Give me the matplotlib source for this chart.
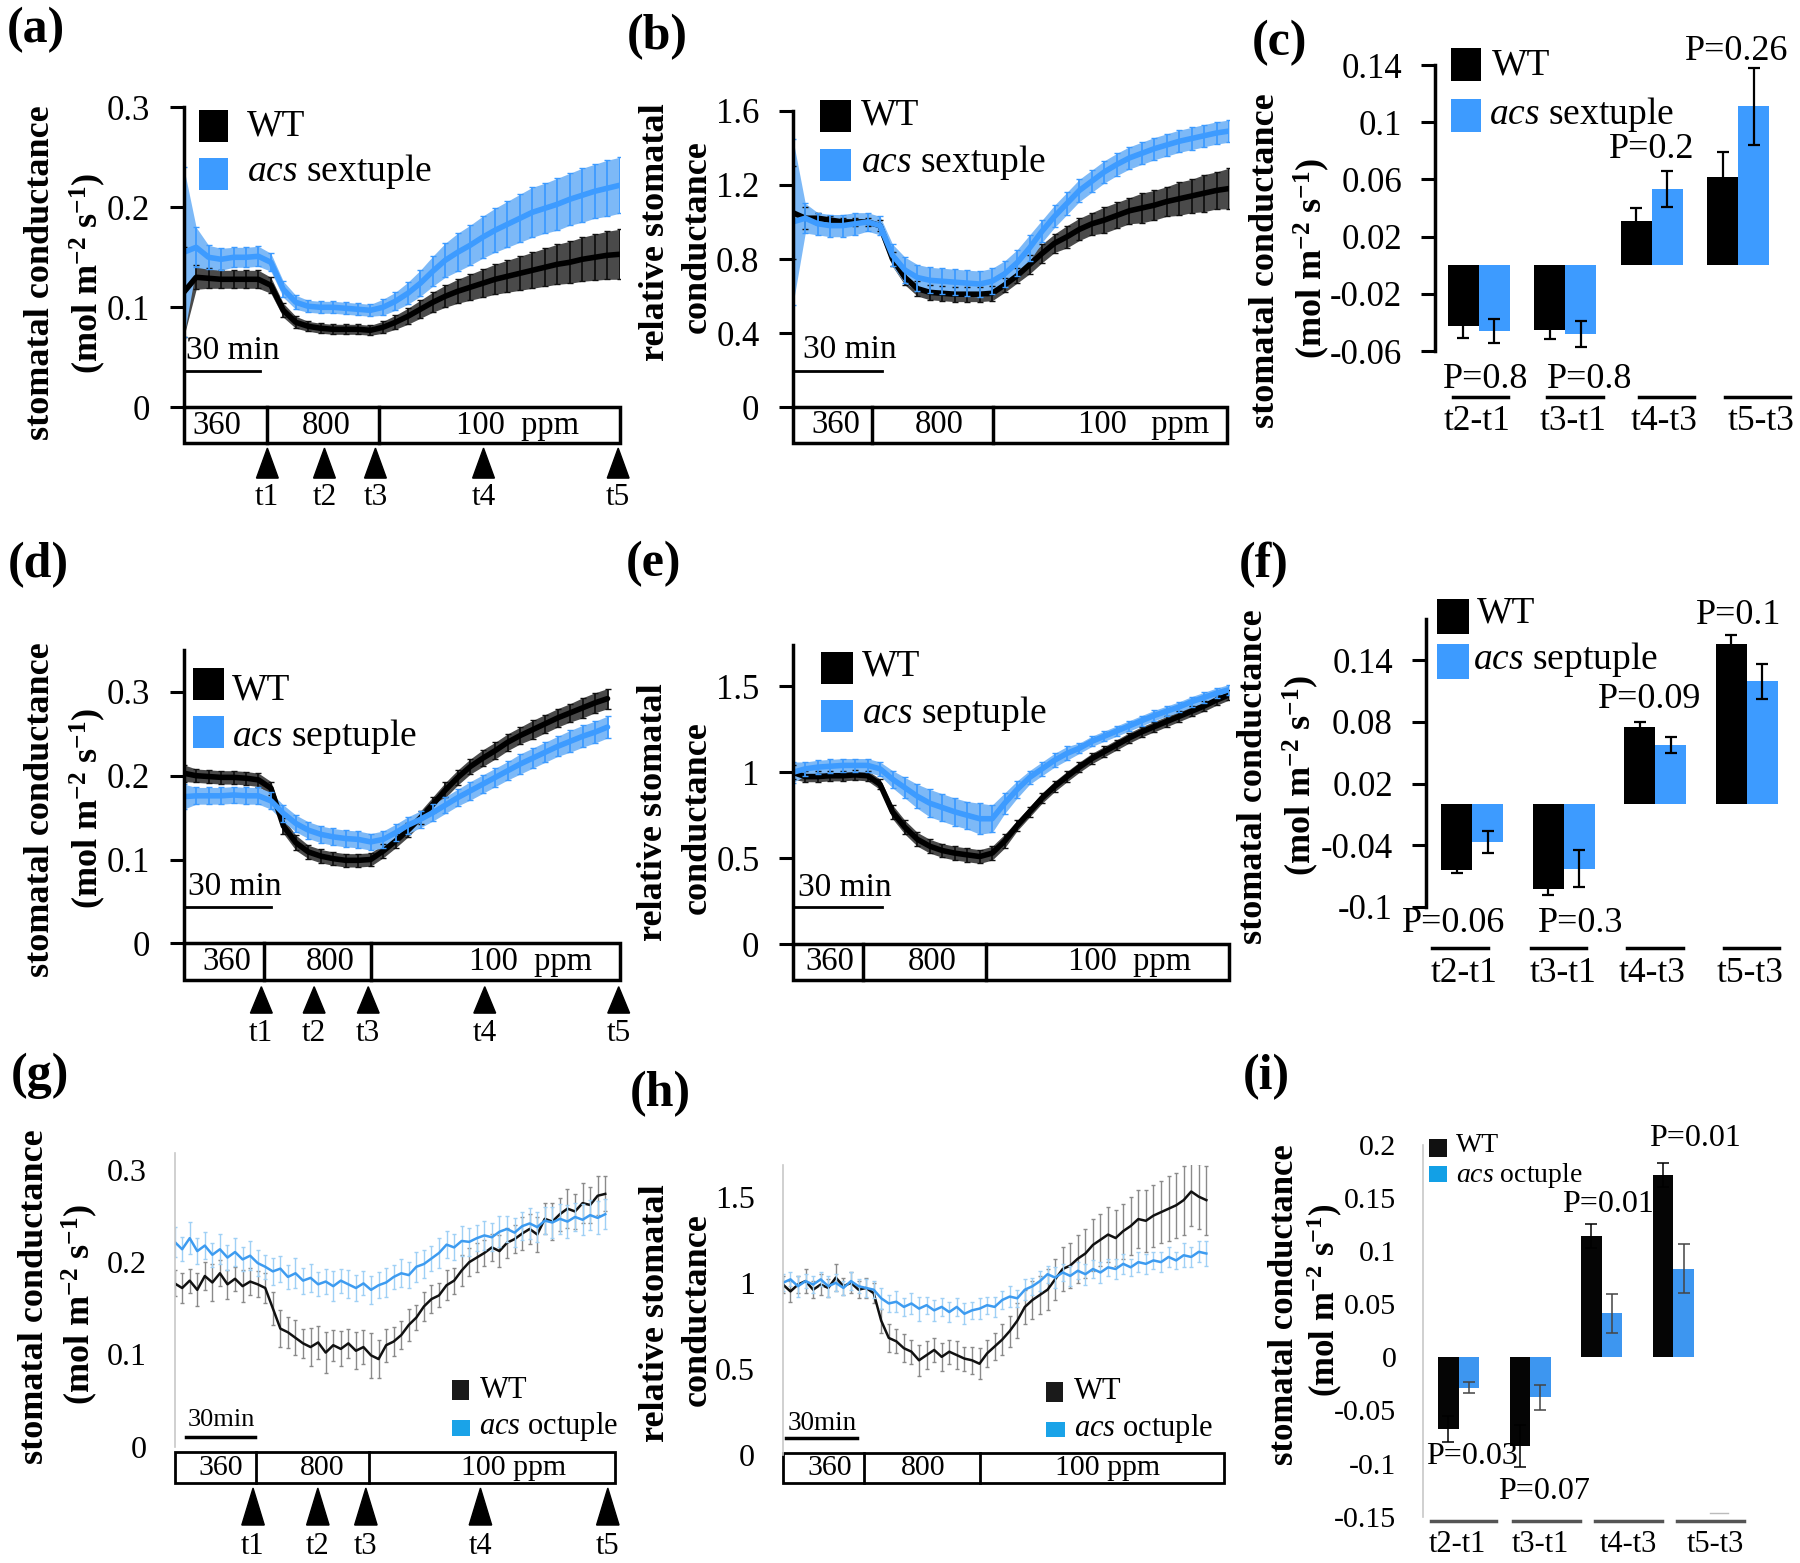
import numpy as np
import matplotlib
matplotlib.use("Agg")
import matplotlib.pyplot as plt
from matplotlib.patches import Rectangle, Polygon
from matplotlib.lines import Line2D

plt.rcParams["font.family"] = ["Liberation Serif", "DejaVu Serif"]
plt.rcParams["mathtext.fontset"] = "custom"
plt.rcParams["mathtext.rm"] = "Liberation Serif"
plt.rcParams["mathtext.it"] = "Liberation Serif:italic"
plt.rcParams["mathtext.bf"] = "Liberation Serif:bold"

W, H = 1800, 1563
BLUE = "#3d9bff"
BLUE_BAND = "#7db9f7"
WT_BAND = "#4a4a4a"

# ---- time courses (minutes) ----
time_5 = np.arange(0, 176, 5)
time_d = np.arange(0, 171, 5)
time_g = np.arange(0, 172, 3)
time_h = np.arange(0, 169, 3)

# (a) stomatal conductance, WT vs acs sextuple
wt_a = [0.115, 0.130, 0.129, 0.128, 0.128, 0.128, 0.128, 0.122,
        0.097, 0.085, 0.081, 0.079, 0.078, 0.078, 0.078, 0.077,
        0.080, 0.085, 0.091, 0.098, 0.105, 0.111, 0.116, 0.120,
        0.124, 0.128, 0.131, 0.134, 0.137, 0.140, 0.143, 0.145,
        0.148, 0.150, 0.152, 0.153]
wt_a_err = [0.045, 0.012, 0.010, 0.009, 0.009, 0.009, 0.009, 0.008,
            0.007, 0.006, 0.005, 0.005, 0.005, 0.005, 0.005, 0.005,
            0.006, 0.007, 0.008, 0.009, 0.010, 0.011, 0.012, 0.013,
            0.014, 0.015, 0.016, 0.017, 0.018, 0.019, 0.020, 0.021,
            0.022, 0.023, 0.024, 0.025]
sext_a = [0.155, 0.160, 0.150, 0.148, 0.150, 0.150, 0.151, 0.145,
          0.118, 0.105, 0.101, 0.100, 0.100, 0.099, 0.098, 0.097,
          0.100, 0.106, 0.114, 0.124, 0.136, 0.147, 0.155, 0.162,
          0.170, 0.177, 0.183, 0.189, 0.195, 0.199, 0.203, 0.208,
          0.212, 0.216, 0.219, 0.222]
sext_a_err = [0.085, 0.020, 0.012, 0.011, 0.010, 0.010, 0.010, 0.009,
              0.008, 0.007, 0.006, 0.006, 0.006, 0.006, 0.006, 0.006,
              0.008, 0.009, 0.011, 0.013, 0.015, 0.017, 0.019, 0.020,
              0.021, 0.022, 0.023, 0.024, 0.025, 0.025, 0.026, 0.026,
              0.027, 0.027, 0.028, 0.028]

# (b) relative stomatal conductance, sextuple
wt_b = [1.05, 1.02, 1.02, 1.01, 1.00, 1.00, 1.00, 0.98,
        0.80, 0.70, 0.64, 0.62, 0.615, 0.61, 0.61, 0.61,
        0.615, 0.66, 0.71, 0.77, 0.83, 0.885, 0.92, 0.96,
        0.99, 1.01, 1.035, 1.06, 1.075, 1.09, 1.11, 1.125,
        1.14, 1.155, 1.17, 1.18]
wt_b_err = [0.25, 0.06, 0.03, 0.02, 0.02, 0.02, 0.02, 0.03,
            0.04, 0.04, 0.04, 0.04, 0.04, 0.04, 0.04, 0.04,
            0.04, 0.04, 0.04, 0.05, 0.05, 0.05, 0.06, 0.06,
            0.06, 0.07, 0.07, 0.07, 0.08, 0.08, 0.08, 0.09,
            0.09, 0.10, 0.10, 0.11]
sext_b = [1.00, 1.02, 0.99, 0.98, 0.98, 0.99, 1.00, 0.98,
          0.82, 0.74, 0.70, 0.685, 0.68, 0.675, 0.67, 0.665,
          0.68, 0.72, 0.78, 0.86, 0.95, 1.03, 1.10, 1.17,
          1.22, 1.27, 1.31, 1.345, 1.37, 1.395, 1.415, 1.435,
          1.45, 1.465, 1.48, 1.49]
sext_b_err = [0.45, 0.08, 0.06, 0.06, 0.06, 0.06, 0.05, 0.05,
              0.06, 0.07, 0.07, 0.07, 0.07, 0.07, 0.07, 0.07,
              0.07, 0.07, 0.07, 0.07, 0.06, 0.06, 0.06, 0.06,
              0.06, 0.06, 0.06, 0.06, 0.06, 0.06, 0.06, 0.06,
              0.06, 0.06, 0.06, 0.06]

# (d) stomatal conductance, septuple
wt_d = [0.203, 0.200, 0.199, 0.198, 0.198, 0.197, 0.195, 0.185,
        0.140, 0.120, 0.109, 0.104, 0.101, 0.099, 0.099, 0.100,
        0.110, 0.122, 0.135, 0.150, 0.166, 0.183, 0.198, 0.211,
        0.221, 0.230, 0.240, 0.248, 0.255, 0.262, 0.269, 0.275,
        0.281, 0.287, 0.292]
wt_d_err = [0.010, 0.008, 0.008, 0.008, 0.008, 0.008, 0.008, 0.008,
            0.009, 0.009, 0.008, 0.008, 0.008, 0.008, 0.008, 0.008,
            0.008, 0.008, 0.008, 0.008, 0.009, 0.009, 0.009, 0.009,
            0.010, 0.010, 0.010, 0.010, 0.011, 0.011, 0.011, 0.011,
            0.012, 0.012, 0.012]
sept_d = [0.175, 0.176, 0.176, 0.176, 0.177, 0.176, 0.176, 0.170,
          0.155, 0.143, 0.135, 0.130, 0.127, 0.125, 0.124, 0.121,
          0.124, 0.132, 0.141, 0.148, 0.156, 0.165, 0.174, 0.182,
          0.190, 0.198, 0.206, 0.214, 0.221, 0.228, 0.235, 0.241,
          0.247, 0.252, 0.258]
sept_d_err = [0.015, 0.010, 0.010, 0.010, 0.010, 0.010, 0.010, 0.010,
              0.010, 0.010, 0.010, 0.010, 0.010, 0.010, 0.010, 0.010,
              0.010, 0.010, 0.010, 0.010, 0.010, 0.010, 0.010, 0.011,
              0.011, 0.011, 0.011, 0.012, 0.012, 0.012, 0.012, 0.013,
              0.013, 0.013, 0.013]

# (e) relative stomatal conductance, septuple
wt_e = [1.00, 0.975, 0.975, 0.98, 0.98, 0.985, 0.98, 0.93,
        0.77, 0.68, 0.61, 0.57, 0.545, 0.53, 0.52, 0.51,
        0.53, 0.60, 0.69, 0.77, 0.85, 0.917, 0.975, 1.03,
        1.08, 1.12, 1.16, 1.20, 1.235, 1.265, 1.295, 1.325,
        1.355, 1.385, 1.42, 1.45]
wt_e_err = [0.04, 0.03, 0.03, 0.03, 0.03, 0.03, 0.03, 0.03,
            0.04, 0.04, 0.04, 0.04, 0.04, 0.04, 0.04, 0.04,
            0.04, 0.04, 0.03, 0.03, 0.03, 0.03, 0.03, 0.03,
            0.03, 0.03, 0.03, 0.03, 0.03, 0.03, 0.03, 0.03,
            0.03, 0.03, 0.03, 0.03]
sept_e = [1.00, 1.02, 1.03, 1.035, 1.04, 1.04, 1.04, 1.02,
          0.96, 0.91, 0.86, 0.82, 0.795, 0.77, 0.75, 0.73,
          0.73, 0.82, 0.90, 0.97, 1.02, 1.07, 1.11, 1.14,
          1.18, 1.21, 1.24, 1.27, 1.30, 1.33, 1.355, 1.38,
          1.41, 1.435, 1.46, 1.48]
sept_e_err = [0.06, 0.04, 0.04, 0.04, 0.04, 0.04, 0.04, 0.04,
              0.05, 0.06, 0.07, 0.08, 0.08, 0.08, 0.08, 0.09,
              0.08, 0.06, 0.05, 0.04, 0.04, 0.04, 0.04, 0.03,
              0.03, 0.03, 0.03, 0.03, 0.03, 0.03, 0.03, 0.03,
              0.03, 0.03, 0.03, 0.03]

# (g) stomatal conductance, octuple
wt_g = [0.177, 0.172, 0.180, 0.170, 0.185, 0.178, 0.188, 0.176, 0.182, 0.174, 0.179, 0.176,
        0.172, 0.150, 0.128, 0.124, 0.118, 0.112, 0.108, 0.113, 0.102, 0.110, 0.106, 0.112,
        0.104, 0.108, 0.099, 0.095, 0.110, 0.114, 0.121, 0.132, 0.140, 0.152, 0.160, 0.164,
        0.175, 0.180, 0.191, 0.200, 0.205, 0.210, 0.216, 0.212, 0.221, 0.225, 0.231, 0.236,
        0.230, 0.247, 0.244, 0.252, 0.258, 0.255, 0.264, 0.262, 0.272, 0.274]
wt_g_err = [0.014, 0.016, 0.013, 0.018, 0.015, 0.020, 0.014, 0.016, 0.013, 0.017, 0.015, 0.014,
            0.016, 0.018, 0.020, 0.017, 0.019, 0.016, 0.021, 0.018, 0.022, 0.017, 0.019, 0.016,
            0.020, 0.018, 0.024, 0.021, 0.018, 0.016, 0.015, 0.017, 0.014, 0.016, 0.015, 0.013,
            0.016, 0.014, 0.017, 0.015, 0.016, 0.014, 0.015, 0.017, 0.016, 0.015, 0.018, 0.016,
            0.019, 0.017, 0.020, 0.018, 0.021, 0.019, 0.022, 0.020, 0.021, 0.019]
oct_g = [0.222, 0.214, 0.226, 0.212, 0.218, 0.208, 0.214, 0.205, 0.211, 0.203, 0.207, 0.199,
         0.195, 0.190, 0.193, 0.184, 0.188, 0.180, 0.183, 0.176, 0.179, 0.174, 0.180, 0.176,
         0.172, 0.177, 0.170, 0.175, 0.178, 0.184, 0.188, 0.186, 0.195, 0.198, 0.204, 0.210,
         0.219, 0.216, 0.223, 0.222, 0.226, 0.229, 0.227, 0.233, 0.236, 0.232, 0.239, 0.242,
         0.238, 0.245, 0.243, 0.247, 0.244, 0.249, 0.246, 0.251, 0.248, 0.252]
oct_g_err = [0.016, 0.013, 0.017, 0.014, 0.015, 0.013, 0.016, 0.014, 0.015, 0.013, 0.016, 0.014,
             0.013, 0.015, 0.014, 0.013, 0.016, 0.014, 0.015, 0.013, 0.014, 0.016, 0.013, 0.015,
             0.014, 0.013, 0.015, 0.014, 0.016, 0.013, 0.015, 0.014, 0.016, 0.015, 0.014, 0.016,
             0.015, 0.014, 0.016, 0.015, 0.014, 0.016, 0.015, 0.017, 0.014, 0.016, 0.015, 0.017,
             0.016, 0.015, 0.017, 0.016, 0.018, 0.015, 0.017, 0.016, 0.018, 0.016]

# (h) relative stomatal conductance, octuple
wt_h = [0.99, 0.95, 0.99, 1.01, 0.96, 0.99, 0.97, 1.03, 0.98, 1.00, 0.96, 0.97,
        0.94, 0.78, 0.68, 0.66, 0.62, 0.60, 0.55, 0.58, 0.61, 0.57, 0.60, 0.58,
        0.56, 0.55, 0.53, 0.59, 0.63, 0.67, 0.72, 0.78, 0.86, 0.90, 0.93, 0.96,
        1.02, 1.08, 1.10, 1.14, 1.17, 1.22, 1.25, 1.28, 1.26, 1.30, 1.33, 1.37,
        1.36, 1.39, 1.41, 1.43, 1.45, 1.48, 1.53, 1.50, 1.48]
wt_h_err = [0.05, 0.06, 0.05, 0.07, 0.05, 0.06, 0.05, 0.08, 0.05, 0.06, 0.05, 0.06,
            0.06, 0.07, 0.08, 0.07, 0.08, 0.07, 0.09, 0.08, 0.07, 0.08, 0.07, 0.08,
            0.07, 0.08, 0.09, 0.08, 0.08, 0.09, 0.09, 0.10, 0.10, 0.11, 0.11, 0.12,
            0.12, 0.13, 0.13, 0.14, 0.14, 0.15, 0.15, 0.16, 0.16, 0.16, 0.17, 0.17,
            0.18, 0.18, 0.18, 0.19, 0.19, 0.20, 0.20, 0.19, 0.20]
oct_h = [1.00, 1.02, 0.98, 1.01, 0.99, 1.02, 0.98, 1.00, 0.97, 1.01, 0.98, 0.97,
         0.96, 0.91, 0.88, 0.89, 0.86, 0.88, 0.85, 0.87, 0.84, 0.86, 0.83, 0.86,
         0.82, 0.84, 0.85, 0.87, 0.86, 0.90, 0.92, 0.91, 0.96, 0.98, 1.01, 1.05,
         1.03, 1.06, 1.04, 1.07, 1.05, 1.08, 1.06, 1.09, 1.08, 1.11, 1.09, 1.12,
         1.11, 1.13, 1.12, 1.15, 1.13, 1.16, 1.15, 1.18, 1.17]
oct_h_err = [0.05, 0.04, 0.06, 0.04, 0.05, 0.04, 0.06, 0.05, 0.04, 0.05, 0.04, 0.05,
             0.05, 0.06, 0.05, 0.06, 0.05, 0.06, 0.07, 0.05, 0.06, 0.05, 0.06, 0.05,
             0.06, 0.05, 0.06, 0.05, 0.06, 0.05, 0.06, 0.05, 0.06, 0.05, 0.06, 0.05,
             0.06, 0.05, 0.06, 0.05, 0.06, 0.05, 0.06, 0.05, 0.06, 0.06, 0.05, 0.06,
             0.06, 0.05, 0.06, 0.06, 0.05, 0.07, 0.06, 0.06, 0.07]

# ---- conductance changes between time points ----
intervals = ["t2-t1", "t3-t1", "t4-t3", "t5-t3"]
wt_c = [-0.0427, -0.045, 0.0308, 0.0618]
wt_c_err = [0.008, 0.0063, 0.0093, 0.0175]
sext_c = [-0.046, -0.048, 0.053, 0.111]
sext_c_err = [0.0085, 0.009, 0.0126, 0.027]
p_c = ["P=0.8", "P=0.8", "P=0.2", "P=0.26"]

wt_f = [-0.0645, -0.0825, 0.0753, 0.156]
wt_f_err = [0.003, 0.006, 0.005, 0.009]
sept_f = [-0.037, -0.063, 0.0574, 0.1195]
sept_f_err = [0.011, 0.018, 0.008, 0.017]
p_f = ["P=0.06", "P=0.3", "P=0.09", "P=0.1"]

wt_i = [-0.0675, -0.0835, 0.1143, 0.1717]
wt_i_err = [0.012, 0.020, 0.011, 0.011]
oct_i = [-0.0286, -0.0377, 0.0414, 0.0835]
oct_i_err = [0.005, 0.012, 0.018, 0.023]
p_i = ["P=0.03", "P=0.07", "P=0.01", "P=0.01"]

fig = plt.figure(figsize=(W / 100, H / 100), dpi=100)


def axes_px(left, top, right, bottom):
    return fig.add_axes([left / W, 1 - bottom / H, (right - left) / W, (bottom - top) / H])


def text_px(x, y, s, size, ha="center", va="center", **kw):
    fig.text(x / W, 1 - y / H, s, fontsize=size, ha=ha, va=va, **kw)


def rect_px(x0, y0, x1, y1, color):
    fig.add_artist(Rectangle((x0 / W, 1 - y1 / H), (x1 - x0) / W, (y1 - y0) / H,
                             transform=fig.transFigure, color=color, lw=0))


def hline_px(x0, x1, y, color="k", lw=2.5):
    fig.add_artist(Line2D([x0 / W, x1 / W], [1 - y / H, 1 - y / H],
                          transform=fig.transFigure, color=color, lw=lw))


def ylabel_px(line1, line2, x1, y1, x2, y2, size=26):
    text_px(x1, y1, line1, size, rotation=90, fontweight="bold")
    text_px(x2, y2, line2, size, rotation=90, fontweight="bold")


UNIT = r"(mol m$^{\mathbf{-2}}$ s$^{\mathbf{-1}}$)"


def legend_px(black_sq, blue_sq, wt_pos, mu_pos, mu_label, size, black="k", blue=BLUE):
    rect_px(*black_sq, black)
    rect_px(*blue_sq, blue)
    text_px(wt_pos[0], wt_pos[1], "WT", size, ha="left")
    text_px(mu_pos[0], mu_pos[1], mu_label, size, ha="left")


def style_axes(ax, ylim, yticks, dark=True, size=25, pad=14, xlim=(0, 175)):
    ax.set_xlim(*xlim)
    ax.set_ylim(*ylim)
    for s in ["top", "right", "bottom"]:
        ax.spines[s].set_visible(False)
    ax.set_xticks([])
    ax.set_yticks(yticks)
    ax.set_yticklabels([f"{v:g}" for v in yticks])
    ax.patch.set_alpha(0)
    if dark:
        ax.spines["left"].set_linewidth(2.5)
        ax.tick_params(axis="y", direction="out", length=10, width=2.2, labelsize=size, pad=pad)
    else:
        ax.spines["left"].set_color("#c8c8c8")
        ax.spines["left"].set_linewidth(1.2)
        ax.tick_params(axis="y", length=0, labelsize=size, pad=pad)


def trace(ax, t, mean, err, line_c, band_c, bar_c, lw=4.0):
    mean = np.asarray(mean)
    err = np.asarray(err)
    ax.fill_between(t, mean - err, mean + err, color=band_c, lw=0)
    ax.errorbar(t, mean, yerr=err, fmt="none", ecolor=bar_c, elinewidth=1.3, capsize=2.5)
    ax.plot(t, mean, color=line_c, lw=lw, solid_capstyle="round")


def noisy_trace(ax, t, mean, err, line_c, bar_c):
    ax.errorbar(t, mean, yerr=err, fmt="none", ecolor=bar_c, elinewidth=1.0, capsize=1.5)
    ax.plot(t, mean, color=line_c, lw=1.8)


def protocol(ax, top, bottom, splits, labels, size, lw=2.5, right=1.0):
    ax.add_patch(Rectangle((0, bottom), right, top - bottom, transform=ax.transAxes,
                           fill=False, ec="k", lw=lw, clip_on=False))
    for s in splits:
        ax.plot([s, s], [bottom, top], transform=ax.transAxes, color="k", lw=lw, clip_on=False)
    for x, s in labels:
        ax.text(x, (top + bottom) / 2, s, transform=ax.transAxes, ha="center", va="center",
                fontsize=size)


def arrows(ax, xs, tip, base, label_y, hw, size):
    for i, x in enumerate(xs):
        ax.add_patch(Polygon([(x - hw, base), (x + hw, base), (x, tip)], closed=True,
                             transform=ax.transAxes, color="k", clip_on=False))
        ax.text(x, label_y, f"t{i + 1}", transform=ax.transAxes, ha="center", va="center",
                fontsize=size)


def scalebar(ax, x0, x1, y, tx, ty, label, size, lw=2.0):
    tr = ax.get_yaxis_transform()
    ax.plot([x0, x1], [y, y], transform=tr, color="k", lw=lw, clip_on=False)
    ax.text(tx, ty, label, transform=tr, ha="center", va="center", fontsize=size)


def bars(ax, wt, wt_err, mu, mu_err, width, blue, black="k", err_c="k", elw=1.6):
    x = np.arange(len(wt))
    ax.bar(x - width / 2, wt, width, color=black)
    ax.bar(x + width / 2, mu, width, color=blue)
    ax.errorbar(x - width / 2, wt, yerr=wt_err, fmt="none", ecolor="k", elinewidth=elw,
                capsize=4, capthick=elw)
    ax.errorbar(x + width / 2, mu, yerr=mu_err, fmt="none", ecolor=err_c, elinewidth=elw,
                capsize=4, capthick=elw)


# ================= (a) =================
ax = axes_px(183.7, 107.3, 619.5, 407.3)
style_axes(ax, (0, 0.3), [0, 0.1, 0.2, 0.3])
trace(ax, time_5, wt_a, wt_a_err, "k", WT_BAND, "#111111")
trace(ax, time_5, sext_a, sext_a_err, BLUE, BLUE_BAND, BLUE)
protocol(ax, 0, -0.12, [0.192, 0.4476], [(0.075, "360"), (0.328, "800"), (0.765, "100  ppm")], 23.5)
arrows(ax, [0.192, 0.323, 0.44, 0.688, 0.997], -0.136, -0.236, -0.302, 0.025, 22.5)
scalebar(ax, 0.005, 0.176, 0.036, 0.112, 0.057, "30 min", 24)
legend_px((198.7, 110, 227.7, 141.7), (198.7, 158, 227.7, 190), (247, 126), (247, 171.7),
          r"$\mathit{acs}$ sextuple", 27)
ylabel_px("stomatal conductance", UNIT, 41, 273, 88, 273)
text_px(36, 30, "(a)", 36, fontweight="bold")

# ================= (b) =================
ax = axes_px(792.8, 110.7, 1229, 407.3)
style_axes(ax, (0, 1.6), [0, 0.4, 0.8, 1.2, 1.6])
trace(ax, time_5, wt_b, wt_b_err, "k", WT_BAND, "#111111")
trace(ax, time_5, sext_b, sext_b_err, BLUE, BLUE_BAND, BLUE)
protocol(ax, 0, -0.12, [0.182, 0.458], [(0.098, "360"), (0.335, "800"), (0.804, "100   ppm")],
         23.5, right=0.995)
scalebar(ax, 0.005, 0.204, 0.196, 0.13, 0.309, "30 min", 24)
legend_px((819.7, 100, 851.3, 132), (819.7, 149, 851.3, 181), (861, 115), (861, 162),
          r"$\mathit{acs}$ sextuple", 27)
ylabel_px("relative stomatal", "conductance", 655.6, 232, 697, 237)
text_px(657, 37, "(b)", 36, fontweight="bold")

# ================= (c) =================
ax = axes_px(1435.4, 65, 1781.5, 351)
style_axes(ax, (-0.06, 0.14), [0.14, 0.1, 0.06, 0.02, -0.02, -0.06], xlim=(-0.5, 3.5))
bars(ax, wt_c, wt_c_err, sext_c, sext_c_err, 0.357, BLUE)
legend_px((1450.6, 48.3, 1480.8, 81), (1450.6, 99, 1480.8, 132), (1491.7, 65), (1488.8, 115),
          r"$\mathit{acs}$ sextuple", 27)
for (x, y), p in zip([(1486, 380), (1590, 380), (1651.7, 150), (1737, 51.7)], p_c):
    text_px(x, y, p, 26)
for (x0, x1), x, lab in zip([(1452.5, 1508), (1547, 1602.6), (1639, 1694), (1725, 1790)],
                            [1477, 1573.5, 1664, 1760.7], intervals):
    hline_px(x0, x1, 397.3)
    text_px(x, 421.7, lab, 25.5)
ylabel_px("stomatal conductance", UNIT, 1266, 261, 1312, 258)
text_px(1280, 43, "(c)", 36, fontweight="bold")

# ================= (d) =================
ax = axes_px(183.7, 650, 620, 943.3)
style_axes(ax, (0, 0.35), [0, 0.1, 0.2, 0.3])
trace(ax, time_d, wt_d, wt_d_err, "k", WT_BAND, "#111111")
trace(ax, time_d, sept_d, sept_d_err, BLUE, BLUE_BAND, BLUE)
protocol(ax, 0, -0.125, [0.185, 0.43], [(0.098, "360"), (0.336, "800"), (0.794, "100  ppm")], 23.5)
arrows(ax, [0.178, 0.299, 0.423, 0.69, 0.997], -0.148, -0.238, -0.306, 0.025, 22.5)
scalebar(ax, 0.005, 0.201, 0.043, 0.117, 0.0675, "30 min", 24)
legend_px((192.6, 668, 223.6, 700), (192.6, 715.7, 223.6, 747.7), (231.7, 690), (231.7, 736.7),
          r"$\mathit{acs}$ septuple", 27)
ylabel_px("stomatal conductance", UNIT, 41, 810, 88, 808)
text_px(38, 565, "(d)", 36, fontweight="bold")

# ================= (e) =================
ax = axes_px(792.8, 645, 1229, 944.3)
style_axes(ax, (0, 1.74), [0, 0.5, 1, 1.5])
trace(ax, time_5, wt_e, wt_e_err, "k", WT_BAND, "#111111")
trace(ax, time_5, sept_e, sept_e_err, BLUE, BLUE_BAND, BLUE)
protocol(ax, 0, -0.119, [0.161, 0.442], [(0.084, "360"), (0.32, "800"), (0.773, "100  ppm")], 23.5)
scalebar(ax, 0.003, 0.204, 0.215, 0.12, 0.328, "30 min", 24)
legend_px((820.5, 651.7, 852.5, 684), (820.5, 700, 852.5, 731.7), (862, 666.7), (862, 713.3),
          r"$\mathit{acs}$ septuple", 27)
ylabel_px("relative stomatal", "conductance", 653.6, 812, 697, 818)
text_px(654, 564, "(e)", 36, fontweight="bold")

# ================= (f) =================
ax = axes_px(1426.3, 619.3, 1792.7, 906.7)
style_axes(ax, (-0.1, 0.18), [0.14, 0.08, 0.02, -0.04, -0.1], xlim=(-0.5, 3.5))
bars(ax, wt_f, wt_f_err, sept_f, sept_f_err, 0.34, BLUE)
legend_px((1437, 599, 1468.8, 634), (1437, 644, 1468.8, 679), (1477, 613.3), (1472.8, 660),
          r"$\mathit{acs}$ septuple", 27)
for (x, y), p in zip([(1453.6, 923.3), (1580.8, 923.3), (1649.8, 700), (1739, 615)], p_f):
    text_px(x, y, p, 26)
for (x0, x1), x, lab in zip([(1431.7, 1488), (1531, 1586), (1627, 1682.6), (1723.6, 1779)],
                            [1464.5, 1562.6, 1651.7, 1749.8], intervals):
    hline_px(x0, x1, 947.7)
    text_px(x, 973.3, lab, 25.5)
ylabel_px("stomatal conductance", UNIT, 1253.6, 777, 1301, 775)
text_px(1264, 565, "(f)", 36, fontweight="bold")

# ================= (g) =================
ax = axes_px(174.6, 1153.3, 615.3, 1446.7)
style_axes(ax, (0, 0.318), [0, 0.1, 0.2, 0.3], dark=False, size=23, pad=20)
noisy_trace(ax, time_g, wt_g, wt_g_err, "#111111", "#8a8a8a")
noisy_trace(ax, time_g, oct_g, oct_g_err, "#3d9bf0", "#9fd0f5")
protocol(ax, -0.019, -0.123, [0.185, 0.442], [(0.104, "360"), (0.335, "800"), (0.77, "100 ppm")],
         21.5, lw=2.0)
arrows(ax, [0.178, 0.325, 0.434, 0.694, 0.983], -0.141, -0.267, -0.34, 0.0255, 22)
scalebar(ax, 0.025, 0.182, 0.011, 0.106, 0.029, "30min", 19, lw=2.5)
legend_px((452, 1380, 469, 1400), (452, 1420, 470, 1435.7), (479.4, 1390), (479.4, 1426.7),
          r"$\mathit{acs}$ octuple", 22, black="#1a1a1a", blue="#1aa3e8")
ylabel_px("stomatal conductance", UNIT, 34.7, 1297, 79.6, 1304)
text_px(40, 1076, "(g)", 36, fontweight="bold")

# ================= (h) =================
ax = axes_px(782.9, 1165, 1224, 1455)
style_axes(ax, (0, 1.684), [0, 0.5, 1, 1.5], dark=False, size=23, pad=20)
noisy_trace(ax, time_h, wt_h, wt_h_err, "#111111", "#8a8a8a")
noisy_trace(ax, time_h, oct_h, oct_h_err, "#3d9bf0", "#9fd0f5")
protocol(ax, 0.006, -0.098, [0.184, 0.446], [(0.106, "360"), (0.317, "800"), (0.737, "100 ppm")],
         21.5, lw=2.0)
scalebar(ax, 0.007, 0.167, 0.097, 0.088, 0.184, "30min", 19.5, lw=2.5)
legend_px((1046, 1381.7, 1063, 1401.7), (1046, 1421.7, 1065, 1437.3), (1074, 1391.7),
          (1074, 1428.3), r"$\mathit{acs}$ octuple", 22, black="#1a1a1a", blue="#1aa3e8")
ylabel_px("relative stomatal", "conductance", 655.6, 1313, 697, 1310)
text_px(660, 1094, "(h)", 36, fontweight="bold")

# ================= (i) =================
ax = axes_px(1422.7, 1145, 1744.9, 1516.7)
style_axes(ax, (-0.15, 0.2), [0.2, 0.15, 0.1, 0.05, 0, -0.05, -0.1, -0.15], dark=False,
           size=21.5, pad=19, xlim=(-0.5, 4.0))
bars(ax, wt_i, wt_i_err, oct_i, oct_i_err, 0.285, "#3d96f0", black="#050505", err_c="#444444",
     elw=1.1)
legend_px((1429, 1139, 1446.6, 1157), (1429, 1166, 1446.6, 1181.7), (1456, 1146), (1456, 1175),
          r"$\mathit{acs}$ octuple", 20, black="#111111", blue="#12a0e6")
for (x, y), p in zip([(1471.7, 1456.7), (1544.4, 1491.7), (1608, 1205), (1695, 1138.3)], p_i):
    text_px(x, y, p, 23)
for (x0, x1), x, lab in zip([(1430.7, 1496.4), (1512.8, 1579.7), (1594.6, 1661.8), (1677, 1744.4)],
                            [1457, 1540.8, 1628, 1715], intervals):
    hline_px(x0, x1, 1521, color="#555555")
    text_px(x, 1545, lab, 22)
hline_px(1710, 1728, 1512.7, color="#bbbbbb", lw=1)
ylabel_px("stomatal conductance", UNIT, 1284.5, 1305, 1324.5, 1300, size=25)
text_px(1266, 1077, "(i)", 36, fontweight="bold")

fig.savefig("out.png", dpi=100)
